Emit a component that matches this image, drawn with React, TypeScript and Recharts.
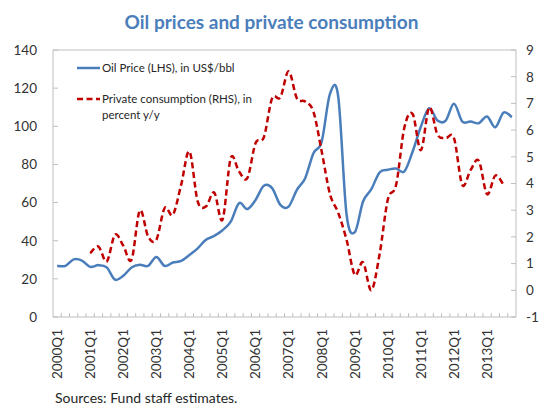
import { LineChart, Line, XAxis, YAxis, ReferenceLine, Legend } from 'recharts';

// quarterly axis, 2000Q1 .. 2013Q4
const YEARS = ['2000', '2001', '2002', '2003', '2004', '2005', '2006', '2007', '2008', '2009', '2010', '2011', '2012', '2013'];
const QUARTERS = YEARS.flatMap((y) => [`${y}Q1`, `${y}Q2`, `${y}Q3`, `${y}Q4`]);

// Oil price, US$/bbl (left axis)
const OIL_PRICE = [
  26.8, 26.8, 30.2, 29.6, 26.3, 27.2, 26.0, 19.6, 21.6, 26.0,
  27.4, 26.8, 31.5, 26.8, 28.6, 29.4, 32.5, 36.0, 40.5, 42.5,
  45.5, 50.0, 59.7, 56.6, 61.4, 68.8, 67.6, 58.8, 57.9, 66.7,
  72.8, 85.9, 92.0, 117.0, 115.5, 54.0, 44.5, 60.6, 67.0, 75.8,
  77.2, 77.9, 76.3, 86.8, 99.9, 109.5, 103.0, 103.0, 111.8, 102.5,
  102.5, 101.6, 105.1, 99.5, 107.2, 104.8,
];

// Private consumption, percent y/y (right axis)
const CONSUMPTION = [
  null, null, null, null, 1.39, 1.64, 1.08, 2.08, 1.67, 1.15,
  2.99, 2.02, 1.89, 3.08, 2.83, 3.95, 5.2, 3.33, 3.14, 3.66,
  2.64, 4.95, 4.45, 4.2, 5.51, 5.73, 7.19, 7.23, 8.2, 7.19,
  7.07, 6.69, 5.2, 3.6, 2.9, 1.9, 0.58, 1.05, 0.0, 1.35,
  3.4, 3.95, 6.1, 6.6, 5.25, 6.85, 5.83, 5.7, 5.7, 3.95,
  4.5, 4.85, 3.6, 4.3, 3.95, null,
];

const LEFT_TICKS = [0, 20, 40, 60, 80, 100, 120, 140];
const RIGHT_TICKS = [-1, 0, 1, 2, 3, 4, 5, 6, 7, 8, 9];

const OIL_COLOR = '#4A7EBB';
const CONS_COLOR = '#C00000';
const AXIS = '#BFBFBF';
const TEXT = '#333333';
const FONT = 'Lato, "Open Sans", sans-serif';

const rows = QUARTERS.map((q, i) => ({ q, oil: OIL_PRICE[i], cons: CONSUMPTION[i] }));

// Excel-style smoothed line (Catmull-Rom through every point)
function excelSmooth(context: any) {
  let pts: number[][] = [];
  return {
    areaStart() {},
    areaEnd() {},
    lineStart() { pts = []; },
    point(x: number, y: number) { pts.push([+x, +y]); },
    lineEnd() {
      if (!pts.length) return;
      context.moveTo(pts[0][0], pts[0][1]);
      for (let i = 0; i < pts.length - 1; i++) {
        const p0 = pts[i - 1] || pts[i];
        const p1 = pts[i];
        const p2 = pts[i + 1];
        const p3 = pts[i + 2] || p2;
        context.bezierCurveTo(
          p1[0] + (p2[0] - p0[0]) / 6, p1[1] + (p2[1] - p0[1]) / 6,
          p2[0] - (p3[0] - p1[0]) / 6, p2[1] - (p3[1] - p1[1]) / 6,
          p2[0], p2[1],
        );
      }
    },
  };
}

function QuarterTick({ x, y, payload, index, visibleTicksCount }: any) {
  const half = payload.offset ?? 0;
  const label = String(payload.value);
  return (
    <g>
      {index < visibleTicksCount - 1 && (
        <line x1={x + half} x2={x + half} y1={y} y2={y - 4} stroke={AXIS} />
      )}
      {label.endsWith('Q1') && (
        <text
          x={x} y={y + 12} dy="0.36em" textAnchor="end"
          transform={`rotate(-90 ${x} ${y + 12})`}
          fontSize={13.5} fill={TEXT} style={{ fontFamily: FONT }}
        >
          {label}
        </text>
      )}
    </g>
  );
}

function LeftTick({ x, y, payload }: any) {
  return (
    <g>
      <line x1={x} x2={x + 5} y1={y} y2={y} stroke={AXIS} />
      <text x={x - 16} y={y} dy="0.36em" textAnchor="end" fontSize={13.5} fill={TEXT} style={{ fontFamily: FONT }}>
        {payload.value}
      </text>
    </g>
  );
}

function RightTick({ x, y, payload }: any) {
  return (
    <g>
      <line x1={x - 5} x2={x} y1={y} y2={y} stroke={AXIS} />
      <text x={x + 10} y={y} dy="0.36em" textAnchor="start" fontSize={13.5} fill={TEXT} style={{ fontFamily: FONT }}>
        {payload.value}
      </text>
    </g>
  );
}

function LegendBox() {
  return (
    <div style={{ fontFamily: FONT, fontSize: 11.5, color: '#262626', lineHeight: '16px' }}>
      <div style={{ display: 'flex', alignItems: 'center' }}>
        <svg width={24} height={6} style={{ marginRight: 1 }}>
          <line x1={0} x2={23} y1={3} y2={3} stroke={OIL_COLOR} strokeWidth={2.5} />
        </svg>
        <span>Oil Price (LHS), in US$/bbl</span>
      </div>
      <div style={{ display: 'flex', alignItems: 'flex-start', marginTop: 15 }}>
        <svg width={24} height={6} style={{ marginRight: 1, marginTop: 5 }}>
          <line x1={0} x2={23} y1={3} y2={3} stroke={CONS_COLOR} strokeWidth={2.5} strokeDasharray="6 3.5" />
        </svg>
        <span>Private consumption (RHS), in<br />percent y/y</span>
      </div>
    </div>
  );
}

export default function App() {
  return (
    <div style={{ position: 'relative', width: 543, height: 406, background: '#fff', fontFamily: FONT }}>
      <style>{'body{margin:0}'}</style>
      <div
        style={{
          position: 'absolute', top: 11, left: 0, width: 543, textAlign: 'center',
          color: OIL_COLOR, fontWeight: 700, fontSize: 19, lineHeight: '22px',
        }}
      >
        Oil prices and private consumption
      </div>
      <LineChart width={543} height={406} data={rows} margin={{ top: 50, right: 0, bottom: 0, left: 0 }}>
        <XAxis
          dataKey="q" scale="band" interval={0} height={89}
          stroke={AXIS} tickLine={false} tickSize={0} tickMargin={0}
          tick={<QuarterTick />}
        />
        <YAxis
          yAxisId="left" domain={[0, 140]} ticks={LEFT_TICKS} width={53}
          stroke={AXIS} tickLine={false} tickSize={0} tickMargin={0}
          tick={<LeftTick />}
        />
        <YAxis
          yAxisId="right" orientation="right" domain={[-1, 9]} ticks={RIGHT_TICKS} width={27}
          stroke={AXIS} tickLine={false} tickSize={0} tickMargin={0}
          tick={<RightTick />}
        />
        <ReferenceLine yAxisId="left" y={140} stroke={AXIS} />
        <Legend
          layout="vertical" align="center" verticalAlign="middle"
          wrapperStyle={{ left: 77, top: 60, width: 240 }}
          content={<LegendBox />}
        />
        <Line
          yAxisId="left" dataKey="oil" type={excelSmooth as any}
          stroke={OIL_COLOR} strokeWidth={2.5} dot={false} isAnimationActive={false}
        />
        <Line
          yAxisId="right" dataKey="cons" type={excelSmooth as any}
          stroke={CONS_COLOR} strokeWidth={2.5} strokeDasharray="6 3.5" dot={false} isAnimationActive={false}
        />
      </LineChart>
      <div style={{ position: 'absolute', left: 55, top: 390, fontSize: 14, lineHeight: '16px', color: '#262626' }}>
        Sources: Fund staff estimates.
      </div>
    </div>
  );
}
